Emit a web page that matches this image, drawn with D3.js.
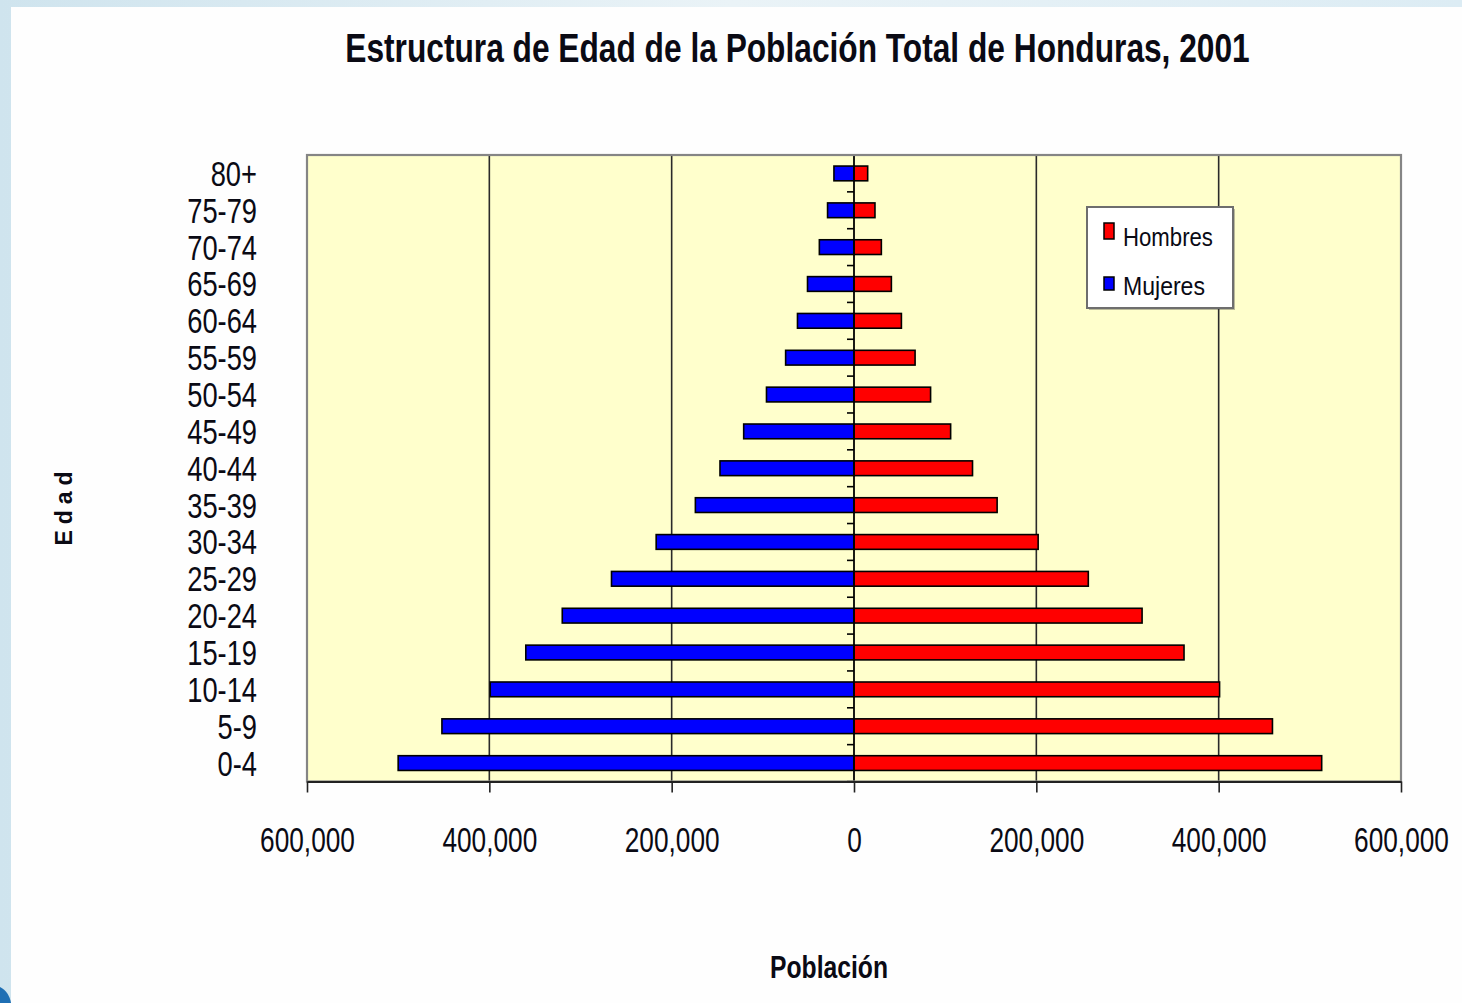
<!DOCTYPE html>
<html>
<head>
<meta charset="utf-8">
<script src="https://cdn.jsdelivr.net/npm/d3@7"></script>
<style>
  html, body { margin: 0; padding: 0; background: #fff; }
  svg { display: block; }
  text { font-family: "Liberation Sans", Arial, sans-serif; fill: #0a0a14; }
</style>
</head>
<body>
<svg id="chart" width="1462" height="1003"></svg>
<script>
// ---- data ----
const ageGroups = ["0-4","5-9","10-14","15-19","20-24","25-29","30-34","35-39","40-44","45-49","50-54","55-59","60-64","65-69","70-74","75-79","80+"];
const hombres = [513000,459000,401000,362000,316000,257000,202000,157000,130000,106000,84000,67000,52000,41000,30000,23000,15000];
const mujeres = [500000,452000,399000,360000,320000,266000,217000,174000,147000,121000,96000,75000,62000,51000,38000,29000,22000];
const xTicks = [-600000,-400000,-200000,0,200000,400000,600000];
const seriesNames = ["Hombres","Mujeres"];
const seriesColors = ["#ff0000","#0000ff"];
const titleText = "Estructura de Edad de la Población Total de Honduras, 2001";
const xTitle = "Población";
const yTitle = "Edad";

const svg = d3.select("#chart");
const W = 1462, H = 1003;

// place a text at (tx,ty) and squeeze it horizontally to a target width
function fitText(sel, tx, ty, targetW, rot) {
  const n = sel.node();
  const natural = n.getComputedTextLength();
  const s = targetW / natural;
  sel.attr("x", 0).attr("y", 0)
     .attr("transform", `translate(${tx},${ty})` + (rot ? ` rotate(${rot})` : "") + ` scale(${s},1)`);
}

// ---- page background frame ----
const defs = svg.append("defs");
const g1 = defs.append("linearGradient").attr("id","frameGrad").attr("x1","0").attr("y1","0").attr("x2","1").attr("y2","0");
g1.append("stop").attr("offset","0").attr("stop-color","#cfe4ee");
g1.append("stop").attr("offset","0.5").attr("stop-color","#eaf3f7");
g1.append("stop").attr("offset","1").attr("stop-color","#dcecf4");
svg.append("rect").attr("x",0).attr("y",0).attr("width",W).attr("height",H).attr("fill","url(#frameGrad)");
svg.append("rect").attr("x",11).attr("y",7).attr("width",W-11).attr("height",H-7).attr("fill","#fefefe");
svg.append("path").attr("d","M0,987 C6,990 10,996 11,1003 L0,1003 Z").attr("fill","#1f6fb4");

// ---- layout ----
const pLeft = 307, pRight = 1401, pTop = 155, pBottom = 781.5;

const x = d3.scaleLinear().domain([-600000, 600000]).range([pLeft, pRight]);
const y = d3.scaleBand().domain(ageGroups.slice().reverse()).range([pTop, pBottom]).paddingInner(0.6).paddingOuter(0.3);
const yStep = d3.scaleBand().domain(ageGroups.slice().reverse()).range([pTop, pBottom]);

// plot background
svg.append("rect").attr("x",pLeft).attr("y",pTop).attr("width",pRight-pLeft).attr("height",pBottom-pTop)
  .attr("fill","#ffffcc");

// gridlines
svg.append("g").selectAll("line").data(xTicks.filter(d => d !== 0 && Math.abs(d) < 600000)).join("line")
  .attr("x1", d => x(d)).attr("x2", d => x(d)).attr("y1", pTop).attr("y2", pBottom)
  .attr("stroke","#2a2a2a").attr("stroke-width",1.6);

// bars
const rows = ageGroups.map((a,i) => ({age:a, h:hombres[i], m:mujeres[i]}));
const bars = svg.append("g");
bars.selectAll("rect.m").data(rows).join("rect").attr("class","m")
  .attr("x", d => x(-d.m)).attr("width", d => x(0) - x(-d.m))
  .attr("y", d => y(d.age)).attr("height", y.bandwidth())
  .attr("fill", seriesColors[1]).attr("stroke","#000").attr("stroke-width",1.6);
bars.selectAll("rect.h").data(rows).join("rect").attr("class","h")
  .attr("x", x(0)).attr("width", d => x(d.h) - x(0))
  .attr("y", d => y(d.age)).attr("height", y.bandwidth())
  .attr("fill", seriesColors[0]).attr("stroke","#000").attr("stroke-width",1.6);

// zero axis with category boundary ticks
svg.append("line").attr("x1", x(0)).attr("x2", x(0)).attr("y1", pTop).attr("y2", pBottom)
  .attr("stroke","#000").attr("stroke-width",1.8);
const boundaries = ageGroups.map(a => yStep(a)).concat([pBottom]);
svg.append("g").selectAll("line").data(boundaries).join("line")
  .attr("x1", x(0) - 7).attr("x2", x(0)).attr("y1", d => d).attr("y2", d => d)
  .attr("stroke","#000").attr("stroke-width",1.6);

// plot border
svg.append("rect").attr("x",pLeft).attr("y",pTop).attr("width",pRight-pLeft).attr("height",pBottom-pTop)
  .attr("fill","none").attr("stroke","#858585").attr("stroke-width",2.2);

// bottom axis
const fmt = d3.format(",");
const xAxis = svg.append("g").attr("transform", `translate(0,${pBottom})`)
  .call(d3.axisBottom(x).tickValues(xTicks).tickSize(11).tickSizeOuter(0).tickFormat(d => fmt(Math.abs(d))));
xAxis.select(".domain").attr("stroke","#222").attr("stroke-width",1.8);
xAxis.selectAll(".tick line").attr("stroke","#222").attr("stroke-width",1.6);
xAxis.selectAll(".tick text")
  .attr("y", 71).attr("dy", 0)
  .attr("font-family","'Liberation Sans', Arial, sans-serif")
  .attr("font-size", 35).attr("fill","#0a0a14")
  .attr("transform","scale(0.75,1)");

// category labels
svg.append("g").selectAll("text").data(ageGroups).join("text")
  .attr("transform", d => `translate(257,${yStep(d) + yStep.bandwidth()/2 + 12.5}) scale(0.78,1)`)
  .attr("text-anchor","end").attr("font-size",35)
  .text(d => d);

// title
const tt = svg.append("text").attr("text-anchor","middle")
  .attr("font-weight","bold").attr("font-size",41)
  .text(titleText);
fitText(tt, 797.5, 62, 905);

// axis titles
const xt = svg.append("text").attr("text-anchor","middle")
  .attr("font-weight","bold").attr("font-size",32)
  .text(xTitle);
fitText(xt, 829, 978, 118);
svg.append("text").attr("transform","translate(72,505.5) rotate(-90)").attr("text-anchor","middle")
  .attr("font-weight","bold").attr("font-size",23).attr("letter-spacing", 6)
  .text(yTitle);

// legend
const lg = svg.append("g");
lg.append("rect").attr("x",1089).attr("y",209).attr("width",146).attr("height",101).attr("fill","#3a3a3a").attr("opacity",0.35);
lg.append("rect").attr("x",1087).attr("y",207).attr("width",146).attr("height",101)
  .attr("fill","#ffffff").attr("stroke","#6e6e6e").attr("stroke-width",2);
const legRows = [
  {name: seriesNames[0], color: seriesColors[0], sy: 223, sh: 16, ty: 246, tl: 90},
  {name: seriesNames[1], color: seriesColors[1], sy: 277, sh: 13, ty: 295, tl: 82}
];
lg.selectAll("rect.sw").data(legRows).join("rect").attr("class","sw")
  .attr("x",1104).attr("y", d => d.sy).attr("width",10).attr("height", d => d.sh)
  .attr("fill", d => d.color).attr("stroke","#000").attr("stroke-width",1.5);
lg.selectAll("text.lt").data(legRows).join("text").attr("class","lt")
  .attr("font-size",26)
  .text(d => d.name)
  .each(function(d) { fitText(d3.select(this), 1123, d.ty, d.tl); });
</script>
</body>
</html>
